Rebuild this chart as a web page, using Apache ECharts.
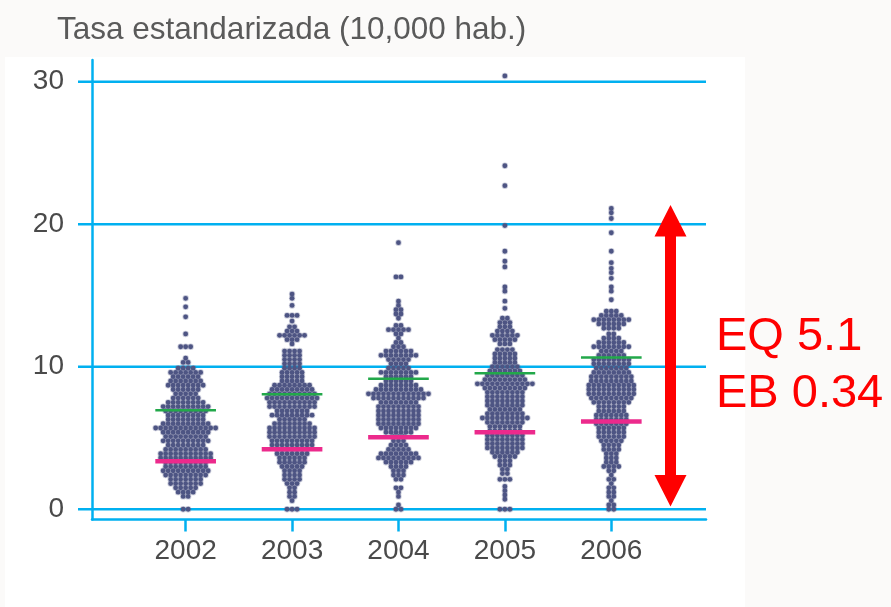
<!DOCTYPE html>
<html><head><meta charset="utf-8">
<script src="https://cdn.jsdelivr.net/npm/echarts@6/dist/echarts.min.js"></script>
<style>html,body{margin:0;padding:0;background:#fbfaf9;}#c{width:891px;height:607px;}</style>
</head><body><div id="c"></div>
<script>
// ---- data ----
const years = [2002, 2003, 2004, 2005, 2006];
const yTicks = [0, 10, 20, 30];
const titleText = 'Tasa estandarizada (10,000 hab.)';
const noteLines = ['EQ 5.1', 'EB 0.34'];
const greenLine = [6.95, 8.07, 9.16, 9.54, 10.64];
const pinkLine = [3.37, 4.21, 5.05, 5.40, 6.15];
// [rate, number of dots at that rate]
const swarm2002 = [[14.8,1],[14.2,1],[13.5,1],[12.3,1],[11.4,3],[10.6,1],[10.3,2],[9.9,4],[9.6,7],[9.3,6],[9.0,7],[8.7,8],[8.4,6],[8.1,5],[7.8,6],[7.5,8],[7.2,10],[6.9,9],[6.6,8],[6.3,8],[6.0,10],[5.7,13],[5.4,10],[5.1,9],[4.8,10],[4.5,8],[4.2,9],[3.9,11],[3.6,11],[3.3,9],[3.0,9],[2.7,10],[2.4,9],[2.1,7],[1.8,7],[1.5,5],[1.2,4],[0.9,2],[0.0,2]];
const swarm2003 = [[15.1,1],[14.8,1],[14.3,1],[13.6,3],[13.2,1],[12.8,2],[12.5,3],[12.2,6],[11.9,3],[11.6,1],[11.1,4],[10.8,4],[10.5,4],[10.2,4],[9.9,4],[9.6,5],[9.3,5],[9.0,5],[8.7,8],[8.4,9],[8.1,10],[7.8,11],[7.5,10],[7.2,10],[6.9,7],[6.6,9],[6.3,6],[6.0,8],[5.7,10],[5.4,10],[5.1,10],[4.8,9],[4.5,9],[4.2,7],[3.9,7],[3.6,6],[3.3,6],[3.0,5],[2.7,4],[2.4,4],[2.1,4],[1.8,3],[1.5,2],[1.2,2],[0.9,2],[0.6,1],[0.0,3]];
const swarm2004 = [[18.7,1],[16.3,2],[14.6,1],[14.3,1],[14.0,2],[13.7,2],[13.4,1],[12.9,2],[12.6,5],[12.3,2],[12.0,1],[11.7,2],[11.4,3],[11.1,6],[10.8,8],[10.5,5],[10.2,4],[9.9,5],[9.6,8],[9.3,6],[9.0,6],[8.7,8],[8.4,10],[8.1,13],[7.8,11],[7.5,8],[7.2,9],[6.9,9],[6.6,9],[6.3,9],[6.0,9],[5.7,8],[5.4,6],[5.1,3],[4.8,3],[4.5,4],[4.2,5],[3.9,8],[3.6,9],[3.3,6],[3.0,4],[2.7,3],[2.4,3],[2.1,2],[1.5,2],[1.2,1],[0.9,1],[0.3,1],[0.0,2]];
const swarm2005 = [[30.4,1],[24.1,1],[22.7,1],[19.9,1],[18.1,1],[17.4,1],[17.0,1],[15.6,1],[15.3,1],[14.6,1],[14.1,1],[13.4,2],[13.1,3],[12.8,3],[12.5,4],[12.2,6],[11.9,5],[11.6,3],[11.2,4],[10.9,5],[10.6,5],[10.3,5],[10.0,6],[9.7,7],[9.4,8],[9.1,9],[8.8,12],[8.5,9],[8.2,8],[7.9,8],[7.6,8],[7.3,8],[7.0,7],[6.7,8],[6.4,10],[6.1,8],[5.8,7],[5.5,7],[5.2,8],[4.9,8],[4.6,8],[4.3,8],[4.0,6],[3.7,5],[3.4,3],[3.1,3],[2.8,2],[2.5,2],[2.1,3],[1.6,1],[1.3,1],[1.0,1],[0.7,1],[0.0,3]];
const swarm2006 = [[21.1,1],[20.8,1],[20.4,1],[19.4,1],[18.1,1],[17.3,1],[16.9,1],[16.6,1],[16.2,1],[15.6,1],[15.3,1],[14.7,1],[13.9,3],[13.6,5],[13.3,8],[13.0,6],[12.7,4],[12.3,2],[12.0,4],[11.7,6],[11.4,8],[11.1,5],[10.8,6],[10.5,8],[10.2,8],[9.9,7],[9.6,8],[9.3,9],[9.0,9],[8.7,10],[8.4,10],[8.1,10],[7.8,9],[7.5,8],[7.2,6],[6.9,6],[6.6,7],[6.3,7],[6.0,7],[5.7,6],[5.4,6],[5.1,6],[4.8,5],[4.5,4],[4.2,4],[3.9,3],[3.6,3],[3.3,3],[3.0,4],[2.7,2],[2.4,1],[2.1,2],[1.8,1],[1.5,2],[1.2,2],[0.9,2],[0.6,1],[0.3,2],[0.0,2]];
const swarms = [swarm2002, swarm2003, swarm2004, swarm2005, swarm2006];

// ---- build series data ----
const X_MIN = 2001.12, X_MAX = 2006.89, Y_MIN = -0.72, Y_MAX = 31.52;
const dotData = [];
swarms.forEach((rows, i) => rows.forEach(([v, n]) => {
  for (let k = 0; k < n; k++) dotData.push([years[i], v, k - (n - 1) / 2]);
}));
const greenData = years.map((y, i) => [y, greenLine[i]]);
const pinkData = years.map((y, i) => [y, pinkLine[i]]);
const gridData = yTicks.map(v => [X_MIN, v]);

const BLUE = '#00b0f0';
const DOT_GAP = 5, HALF = 0.285;
const FONT = '"Liberation Sans", Arial, sans-serif';
const labelStyle = { fontSize: 28, lineHeight: 28, fontFamily: FONT, color: '#4a4a4a' };

function segRender(color, width) {
  return (params, api) => {
    const a = api.coord([api.value(0) - HALF, api.value(1)]);
    const b = api.coord([api.value(0) + HALF, api.value(1)]);
    return { type: 'line', shape: { x1: a[0], y1: a[1], x2: b[0], y2: b[1] }, style: { stroke: color, lineWidth: width } };
  };
}

const chart = echarts.init(document.getElementById('c'));
chart.setOption({
  animation: false,
  backgroundColor: 'transparent',
  title: { text: titleText, left: 52, top: 9, textStyle: { fontSize: 31.5, fontWeight: 'normal', color: '#5a5a5a', fontFamily: FONT } },
  grid: { left: 92, right: 185, top: 60, bottom: 87.5 },
  xAxis: {
    type: 'value', min: X_MIN, max: X_MAX, splitLine: { show: false },
    axisLine: { onZero: false, lineStyle: { color: BLUE, width: 2.5 } },
    axisTick: { show: true, customValues: years, length: 12, lineStyle: { color: BLUE, width: 2.5 } },
    axisLabel: Object.assign({ customValues: years, margin: 18, formatter: v => String(Math.round(v)) }, labelStyle)
  },
  yAxis: {
    type: 'value', min: Y_MIN, max: Y_MAX, splitLine: { show: false },
    axisLine: { show: true, onZero: false, lineStyle: { color: BLUE, width: 2.5 } },
    axisTick: { show: false },
    axisLabel: Object.assign({ customValues: yTicks, margin: 28, formatter: v => String(Math.round(v)) }, labelStyle)
  },
  graphic: [
    { type: 'rect', z: -100, silent: true, shape: { x: 5, y: 57, width: 740, height: 560 }, style: { fill: '#ffffff' } },
    { type: 'polygon', z: 100, shape: { points: [[670.5,205],[686.5,236.5],[676,236.5],[676,475],[686.5,475],[670.5,506.5],[654.5,475],[665,475],[665,236.5],[654.5,236.5]] }, style: { fill: '#ff0000' } },
    { type: 'text', z: 100, x: 716, y: 337, style: { text: noteLines[0], fill: '#ff0000', fontSize: 47, fontFamily: FONT, verticalAlign: 'middle' } },
    { type: 'text', z: 100, x: 716, y: 394, style: { text: noteLines[1], fill: '#ff0000', fontSize: 47, fontFamily: FONT, verticalAlign: 'middle' } }
  ],
  series: [
    {
      type: 'custom', name: 'grid', clip: false, z: 1, data: gridData, encode: { x: 0, y: 1 },
      renderItem: (params, api) => {
        const a = api.coord([X_MIN, api.value(1)]);
        const b = api.coord([X_MAX, api.value(1)]);
        return { type: 'line', shape: { x1: a[0] - 14, y1: a[1], x2: b[0], y2: b[1] }, style: { stroke: BLUE, lineWidth: 2.5 } };
      }
    },
    {
      type: 'custom', name: 'tasas', z: 3, data: dotData, encode: { x: 0, y: 1 },
      renderItem: (params, api) => {
        const p = api.coord([api.value(0), api.value(1)]);
        return { type: 'circle', shape: { cx: p[0] + api.value(2) * DOT_GAP, cy: p[1], r: 2.4 }, style: { fill: '#4e5584', stroke: 'rgba(78,85,132,0.3)', lineWidth: 1.6 } };
      }
    },
    { type: 'custom', name: 'verde', z: 4, data: greenData, encode: { x: 0, y: 1 }, renderItem: segRender('#22a84a', 2.5) },
    { type: 'custom', name: 'rosa', z: 4, data: pinkData, encode: { x: 0, y: 1 }, renderItem: segRender('#ec2a8c', 4.5) }
  ]
});
</script></body></html>
